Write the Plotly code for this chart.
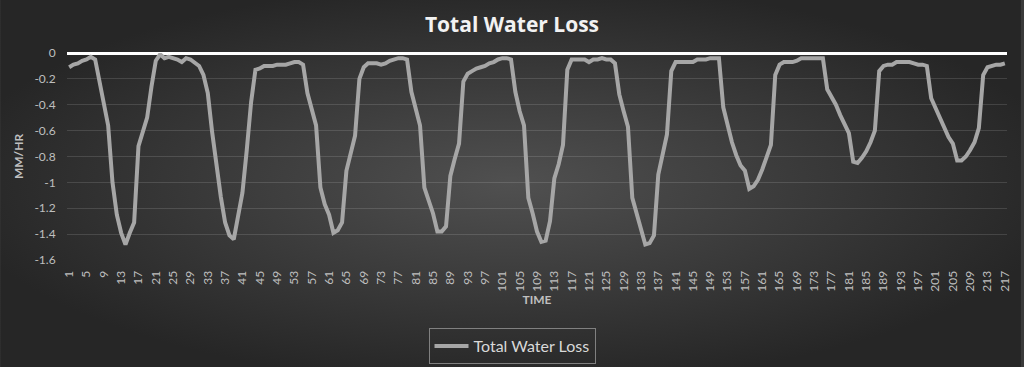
import base64
import plotly.graph_objects as go

# ---------------- data ----------------
time = list(range(1, 218))
water_loss = [
    -0.11, -0.09, -0.08, -0.06, -0.05, -0.03, -0.05, -0.21, -0.40, -0.56,
    -1.00, -1.25, -1.39, -1.48, -1.39, -1.31, -0.72, -0.60, -0.50, -0.26,
    -0.06, -0.01, -0.04, -0.03, -0.04, -0.05, -0.07, -0.04, -0.05, -0.08,
    -0.10, -0.17, -0.31, -0.61, -0.89, -1.11, -1.31, -1.41, -1.44, -1.24,
    -1.08, -0.75, -0.38, -0.13, -0.12, -0.10, -0.10, -0.10, -0.09, -0.09,
    -0.09, -0.08, -0.07, -0.07, -0.09, -0.31, -0.45, -0.56, -1.04, -1.17,
    -1.25, -1.39, -1.37, -1.31, -0.91, -0.77, -0.64, -0.20, -0.11, -0.08,
    -0.08, -0.08, -0.09, -0.08, -0.06, -0.05, -0.04, -0.04, -0.05, -0.30,
    -0.43, -0.56, -1.04, -1.15, -1.24, -1.38, -1.38, -1.34, -0.95, -0.82,
    -0.70, -0.22, -0.16, -0.14, -0.12, -0.11, -0.10, -0.08, -0.07, -0.05,
    -0.04, -0.04, -0.05, -0.30, -0.45, -0.56, -1.12, -1.24, -1.38, -1.46,
    -1.45, -1.30, -0.97, -0.86, -0.71, -0.13, -0.05, -0.05, -0.05, -0.05,
    -0.07, -0.05, -0.05, -0.04, -0.05, -0.05, -0.08, -0.32, -0.45, -0.57,
    -1.12, -1.25, -1.36, -1.48, -1.47, -1.41, -0.94, -0.79, -0.63, -0.14,
    -0.07, -0.07, -0.07, -0.07, -0.07, -0.05, -0.05, -0.05, -0.04, -0.04,
    -0.04, -0.42, -0.57, -0.69, -0.79, -0.87, -0.91, -1.05, -1.03, -0.98,
    -0.90, -0.80, -0.71, -0.17, -0.09, -0.07, -0.07, -0.07, -0.06, -0.04,
    -0.04, -0.04, -0.04, -0.04, -0.04, -0.28, -0.34, -0.40, -0.48, -0.55,
    -0.62, -0.84, -0.85, -0.81, -0.76, -0.69, -0.60, -0.14, -0.10, -0.09,
    -0.09, -0.07, -0.07, -0.07, -0.07, -0.08, -0.09, -0.09, -0.10, -0.35,
    -0.43, -0.51, -0.58, -0.65, -0.70, -0.83, -0.83, -0.80, -0.75, -0.69,
    -0.58, -0.17, -0.11, -0.10, -0.09, -0.09, -0.08,
]
x_tick_vals = list(range(1, 218, 4))
x_tick_text = [str(v) for v in x_tick_vals]
y_tick_vals = [0, -0.2, -0.4, -0.6, -0.8, -1.0, -1.2, -1.4, -1.6]
y_tick_text = ["0", "-0.2", "-0.4", "-0.6", "-0.8", "-1", "-1.2", "-1.4", "-1.6"]

# ---------------- layout constants ----------------
W, H = 1024, 367
L, R, T, B = 67, 14, 53, 107
pw, ph = W - L - R, H - T - B
FONT = "Lato"

svg = f'''<svg xmlns="http://www.w3.org/2000/svg" width="{W}" height="{H}" viewBox="0 0 {W} {H}" preserveAspectRatio="none">
<defs><radialGradient id="g" cx="50%" cy="50%" r="55%">
<stop offset="0%" stop-color="#505050"/><stop offset="100%" stop-color="#262626"/>
</radialGradient></defs><rect width="{W}" height="{H}" fill="url(#g)"/></svg>'''
bg_uri = "data:image/svg+xml;base64," + base64.b64encode(svg.encode()).decode()

fig = go.Figure()
fig.add_trace(go.Scatter(
    x=time, y=water_loss, mode="lines", name="Total Water Loss",
    line=dict(color="#a6a6a6", width=4),
))

fig.update_layout(
    width=W, height=H,
    margin=dict(l=L, r=R, t=T, b=B),
    paper_bgcolor="#3a3a3a",
    plot_bgcolor="rgba(0,0,0,0)",
    showlegend=True,
    title=dict(text="<b>Total Water Loss</b>", x=0.5, xref="container", xanchor="center",
               y=1 - 25 / H, yref="container", yanchor="middle",
               font=dict(family="Open Sans", size=21, color="#f2f2f2")),
    xaxis=dict(range=[0.5, 217.5], tickmode="array", tickvals=x_tick_vals, ticktext=x_tick_text,
               tickangle=-90, tickfont=dict(family=FONT, size=12, color="#bfbfbf"),
               showgrid=False, zeroline=False, showline=False, ticks="outside", ticklen=5,
               tickcolor="rgba(0,0,0,0)",
               title=dict(text="<b>TIME</b>", standoff=3, font=dict(family=FONT, size=12, color="#bfbfbf"))),
    yaxis=dict(range=[-1.6, 0], tickmode="array", tickvals=y_tick_vals, ticktext=y_tick_text,
               tickfont=dict(family=FONT, size=12, color="#bfbfbf"),
               showgrid=True, gridcolor="rgba(255,255,255,0.13)", gridwidth=1,
               zeroline=True, zerolinecolor="#ffffff", zerolinewidth=3, showline=False,
               ticks="outside", ticklen=8, tickcolor="rgba(0,0,0,0)",
               title=dict(text="<b>MM/HR</b>", standoff=8, font=dict(family=FONT, size=12, color="#bfbfbf"))),
    legend=dict(orientation="h", xref="container", yref="container", x=0.5, xanchor="center",
                y=1 - 328 / H, yanchor="top", bordercolor="#808080", borderwidth=1,
                bgcolor="rgba(0,0,0,0)", itemwidth=34,
                font=dict(family=FONT, size=16, color="#d9d9d9")),
    images=[dict(source=bg_uri, xref="paper", yref="paper", x=-L / pw, y=1 + T / ph,
                 sizex=W / pw, sizey=H / ph, xanchor="left", yanchor="top",
                 sizing="stretch", layer="below")],
)

fig.write_html(
    "out.html",
    config={"displayModeBar": False},
    post_script="document.body.style.margin='0';document.body.style.padding='0';"
                "document.body.style.overflow='hidden';",
)
